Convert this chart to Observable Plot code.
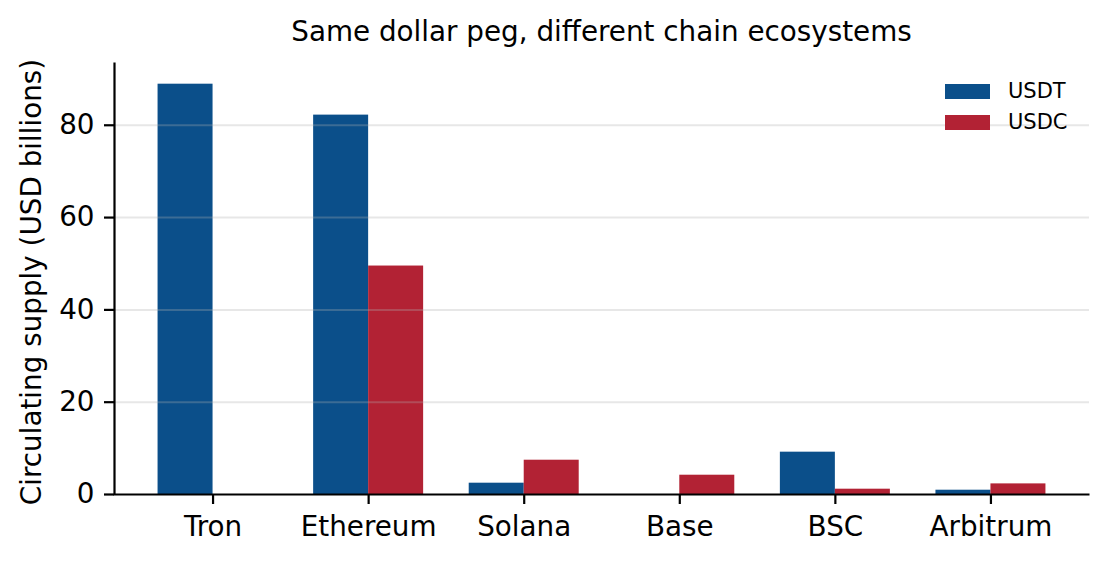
<!DOCTYPE html>
<html><head><meta charset="utf-8">
<script src="https://cdn.jsdelivr.net/npm/d3@7"></script>
<script src="https://cdn.jsdelivr.net/npm/@observablehq/plot@0.6"></script>
<style>
html,body{margin:0;padding:0;background:#fff;}
#wrap{position:relative;width:1110px;height:562px;font-family:"DejaVu Sans",sans-serif;color:#000;overflow:hidden;}
#title{box-sizing:border-box;height:52px;padding:12px 21px 0 114px;line-height:40px;font-size:27.8px;text-align:center;white-space:nowrap;}
#ylabel{position:absolute;left:31.5px;top:282px;transform:translate(-50%,-50%) rotate(-90deg);font-size:27.8px;line-height:1;white-space:nowrap;}
#legend{position:absolute;left:945px;top:84px;}
.row{display:flex;align-items:center;height:15px;margin-bottom:16px;font-size:21px;}
.row span{line-height:1;}
.sw{width:45px;height:15px;margin-right:18px;}
#chart svg{display:block;}
</style></head>
<body>
<div id="wrap">
  <div id="title">Same dollar peg, different chain ecosystems</div>
  <div id="chart"></div>
  <div id="ylabel">Circulating supply (USD billions)</div>
  <div id="legend"></div>
</div>
<script>
const chains = ["Tron", "Ethereum", "Solana", "Base", "BSC", "Arbitrum"];
const usdt = [88.9, 82.2, 2.45, 0, 9.17, 0.93];
const usdc = [0, 49.5, 7.43, 4.18, 1.15, 2.3];
const coins = ["USDT", "USDC"];
const colors = ["#0b4f8a", "#b22234"];
const yTicks = [0, 20, 40, 60, 80];
const yMax = 93.6;

const rowsT = chains.map((c, i) => ({chain: c, coin: coins[0], value: usdt[i]}));
const rowsC = chains.map((c, i) => ({chain: c, coin: coins[1], value: usdc[i]}));

const W = 1110, H = 510, mL = 114, mR = 21, mT = 10, mB = 68;
const fw = W - mL - mR, fh = H - mT - mB;

const chart = Plot.plot({
  width: W, height: H,
  marginLeft: mL, marginRight: mR, marginTop: mT, marginBottom: mB,
  style: {fontFamily: "DejaVu Sans", fontSize: "27.8px", color: "#000", background: "#fff", overflow: "visible"},
  x: {type: "band", domain: chains, paddingInner: 0.293, paddingOuter: 0.28, align: 0.5, round: false},
  y: {domain: [0, yMax]},
  marks: [
    Plot.barY(rowsT, {x: "chain", y: "value", fill: colors[0], insetLeft: 0, insetRight: 55}),
    Plot.barY(rowsC, {x: "chain", y: "value", fill: colors[1], insetLeft: 55, insetRight: 0}),
    Plot.ruleY(yTicks.filter(t => t > 0), {stroke: "#b0b0b0", strokeOpacity: 0.3, strokeWidth: 2}),
    Plot.frame({stroke: "#000", strokeWidth: 2.2, strokeDasharray: `0,${fw + fh},${fw + fh}`}),
    Plot.axisY(yTicks, {tickSize: 10, tickPadding: 10, strokeWidth: 2.2, fontSize: 27.8, label: null}),
    Plot.axisX({tickSize: 10, tickPadding: 12, strokeWidth: 2.2, fontSize: 27.8, label: null})
  ]
});
document.getElementById("chart").appendChild(chart);

const legend = document.getElementById("legend");
coins.forEach((c, i) => {
  const row = document.createElement("div");
  row.className = "row";
  const sw = document.createElement("div");
  sw.className = "sw";
  sw.style.background = colors[i];
  const t = document.createElement("span");
  t.textContent = c;
  row.appendChild(sw);
  row.appendChild(t);
  legend.appendChild(row);
});
</script>
</body></html>
